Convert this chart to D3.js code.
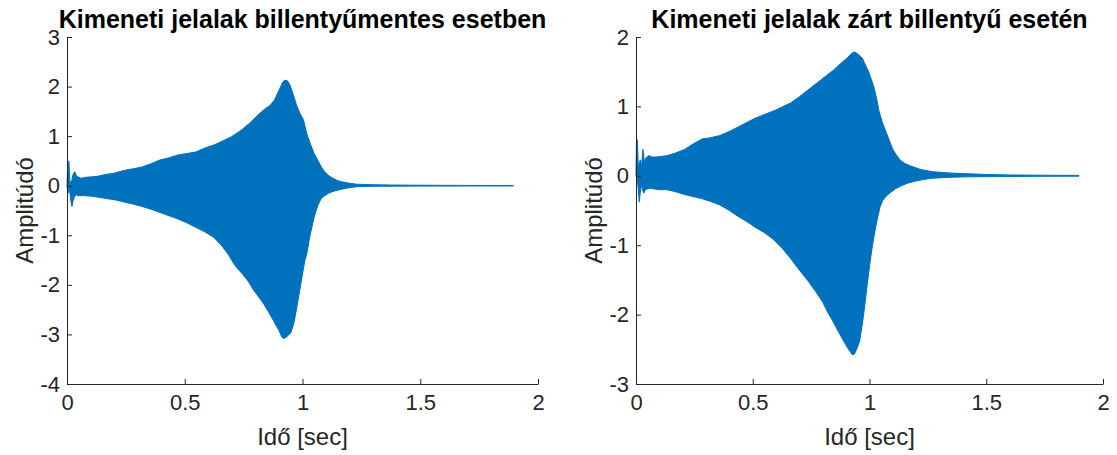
<!DOCTYPE html>
<html>
<head>
<meta charset="utf-8">
<script src="https://cdn.jsdelivr.net/npm/d3@7"></script>
<style>
  html, body { margin: 0; padding: 0; background: #fff; }
  svg { display: block; }
  text { font-family: "Liberation Sans", Arial, Helvetica, sans-serif; }
</style>
</head>
<body>
<svg id="chart" width="1117" height="455"></svg>
<script>
// ---------- Data ----------
const xTicks = [0, 0.5, 1, 1.5, 2];
const xTickLabels = ["0", "0.5", "1", "1.5", "2"];
const leftYTicks = [-4, -3, -2, -1, 0, 1, 2, 3];
const rightYTicks = [-3, -2, -1, 0, 1, 2];

const titleLeft = "Kimeneti jelalak billentyűmentes esetben";
const titleRight = "Kimeneti jelalak zárt billentyű esetén";
const xLabel = "Idő [sec]";
const yLabel = "Amplitúdó";

// Left panel: upper / lower envelope of the oscillating signal
const leftUpperT = [0.000,0.003,0.008,0.012,0.018,0.025,0.033,0.040,0.046,0.060,0.080,0.106,0.130,0.167,0.200,0.243,0.280,0.319,0.360,0.395,0.430,0.471,0.510,0.547,0.585,0.623,0.660,0.699,0.740,0.775,0.810,0.840,0.860,0.880,0.900,0.915,0.925,0.935,0.945,0.960,0.975,0.990,1.004,1.018,1.033,1.049,1.064,1.080,1.094,1.110,1.125,1.150,1.170,1.200,1.230,1.300,1.380,1.500,1.700,1.895];
const leftUpperV = [0.00,0.48,0.50,0.10,0.05,0.22,0.28,0.20,0.18,0.15,0.17,0.18,0.19,0.23,0.25,0.31,0.34,0.38,0.45,0.52,0.56,0.62,0.65,0.68,0.76,0.82,0.90,0.99,1.12,1.26,1.42,1.55,1.61,1.72,1.92,2.08,2.13,2.12,2.05,1.85,1.62,1.45,1.33,1.05,0.85,0.65,0.52,0.38,0.28,0.21,0.16,0.10,0.075,0.05,0.03,0.02,0.014,0.01,0.006,0.005];
const leftLowerT = [0.000,0.004,0.010,0.016,0.021,0.026,0.031,0.040,0.046,0.070,0.100,0.130,0.167,0.200,0.243,0.280,0.320,0.360,0.395,0.430,0.471,0.510,0.547,0.585,0.623,0.655,0.684,0.700,0.720,0.745,0.770,0.790,0.815,0.836,0.860,0.881,0.900,0.912,0.920,0.930,0.950,0.962,0.973,0.985,0.995,1.010,1.018,1.030,1.049,1.065,1.079,1.094,1.115,1.140,1.185,1.230,1.300,1.500,1.700,1.895];
const leftLowerV = [0.00,-0.15,-0.05,-0.30,-0.42,-0.30,-0.23,-0.18,-0.20,-0.20,-0.21,-0.23,-0.26,-0.28,-0.33,-0.37,-0.42,-0.48,-0.54,-0.60,-0.67,-0.75,-0.84,-0.93,-1.04,-1.20,-1.38,-1.51,-1.65,-1.78,-1.93,-2.09,-2.25,-2.39,-2.58,-2.76,-2.92,-3.05,-3.08,-3.06,-2.97,-2.80,-2.53,-2.20,-1.92,-1.51,-1.38,-1.05,-0.64,-0.40,-0.26,-0.20,-0.14,-0.10,-0.05,-0.02,-0.012,-0.008,-0.006,-0.005];

// Right panel
const rightUpperT = [0.000,0.002,0.006,0.010,0.018,0.024,0.030,0.036,0.041,0.050,0.056,0.070,0.086,0.110,0.132,0.170,0.208,0.245,0.283,0.320,0.359,0.400,0.435,0.470,0.510,0.556,0.600,0.662,0.700,0.738,0.776,0.814,0.845,0.874,0.905,0.930,0.940,0.955,0.970,0.985,0.995,1.018,1.030,1.041,1.056,1.071,1.086,1.100,1.115,1.130,1.150,1.177,1.220,1.268,1.344,1.420,1.495,1.600,1.750,1.897];
const rightUpperV = [0.00,0.50,0.52,0.10,0.23,0.15,0.38,0.20,0.25,0.28,0.29,0.27,0.27,0.28,0.29,0.33,0.38,0.46,0.53,0.55,0.58,0.64,0.70,0.76,0.83,0.89,0.95,1.05,1.14,1.24,1.34,1.44,1.52,1.61,1.70,1.78,1.78,1.74,1.69,1.58,1.51,1.29,1.12,0.93,0.76,0.63,0.50,0.38,0.30,0.23,0.18,0.14,0.09,0.06,0.04,0.03,0.02,0.012,0.008,0.006];
const rightLowerT = [0.000,0.005,0.010,0.014,0.018,0.023,0.028,0.033,0.040,0.056,0.080,0.100,0.132,0.170,0.208,0.245,0.283,0.320,0.359,0.400,0.435,0.470,0.510,0.550,0.586,0.625,0.662,0.700,0.738,0.770,0.798,0.820,0.844,0.866,0.889,0.910,0.927,0.935,0.945,0.958,0.970,0.980,0.990,1.003,1.011,1.022,1.033,1.045,1.056,1.070,1.086,1.110,1.132,1.160,1.192,1.230,1.268,1.340,1.420,1.600,1.750,1.897];
const rightLowerV = [0.00,-0.03,-0.20,-0.38,-0.25,-0.13,-0.20,-0.25,-0.20,-0.18,-0.19,-0.20,-0.20,-0.23,-0.27,-0.30,-0.33,-0.37,-0.42,-0.50,-0.58,-0.65,-0.74,-0.82,-0.91,-1.04,-1.19,-1.36,-1.52,-1.67,-1.81,-1.96,-2.10,-2.24,-2.38,-2.50,-2.58,-2.57,-2.50,-2.38,-2.12,-1.86,-1.57,-1.23,-1.04,-0.82,-0.63,-0.45,-0.36,-0.30,-0.25,-0.19,-0.15,-0.11,-0.08,-0.055,-0.035,-0.022,-0.015,-0.01,-0.007,-0.006];

// ---------- Drawing ----------
const svg = d3.select("#chart");
svg.append("rect").attr("width", 1117).attr("height", 455).attr("fill", "#fff");

const AX = "#262626";
const LINE = "#0072BD";

function panel(cfg) {
  const x = d3.scaleLinear().domain([0, 2]).range([cfg.x0, cfg.x1]);
  const y = d3.scaleLinear().domain(cfg.yDomain).range([cfg.y1, cfg.y0]);
  const g = svg.append("g");

  // signal envelope (filled)
  const upper = cfg.upT.map((t, i) => [t, cfg.upV[i]]);
  const lower = cfg.loT.map((t, i) => [t, cfg.loV[i]]).reverse();
  const pts = upper.concat(lower);
  const line = d3.line().x(d => x(d[0])).y(d => y(d[1])).curve(d3.curveLinear);
  g.append("path")
    .attr("d", line(pts) + "Z")
    .attr("fill", LINE)
    .attr("stroke", LINE)
    .attr("stroke-width", 1)
    .attr("stroke-linejoin", "round");

  // x axis
  const xa = g.append("g")
    .attr("transform", `translate(0,${cfg.y1})`)
    .call(d3.axisBottom(x).tickValues(xTicks).tickFormat((d, i) => xTickLabels[i])
      .tickSizeInner(-5).tickSizeOuter(0).tickPadding(10));
  // y axis
  const ya = g.append("g")
    .attr("transform", `translate(${cfg.x0},0)`)
    .call(d3.axisLeft(y).tickValues(cfg.yTicks).tickFormat(d3.format("d"))
      .tickSizeInner(-5).tickSizeOuter(0).tickPadding(7));

  [xa, ya].forEach(a => {
    a.select(".domain").attr("stroke", AX).attr("stroke-width", 1);
    a.selectAll(".tick line").attr("stroke", AX).attr("stroke-width", 1);
    a.selectAll(".tick text").attr("fill", AX).style("font-size", "22px")
      .style("font-family", '"Liberation Sans", Arial, sans-serif');
  });
  ya.selectAll(".tick text").text(d => d < 0 ? "-" + Math.abs(d) : String(d));

  // title
  g.append("text")
    .attr("x", (cfg.x0 + cfg.x1) / 2).attr("y", 28)
    .attr("text-anchor", "middle")
    .style("font-size", "25px").style("font-weight", "bold").attr("fill", "#000")
    .text(cfg.title);
  // x label
  g.append("text")
    .attr("x", (cfg.x0 + cfg.x1) / 2).attr("y", 445)
    .attr("text-anchor", "middle")
    .style("font-size", "24px").attr("fill", AX)
    .text(xLabel);
  // y label
  g.append("text")
    .attr("transform", `translate(${cfg.ylx},${(cfg.y0 + cfg.y1) / 2}) rotate(-90)`)
    .attr("text-anchor", "middle")
    .style("font-size", "24px").attr("fill", AX)
    .text(yLabel);
}

panel({ x0: 67, x1: 538, y0: 37, y1: 384, yDomain: [-4, 3], yTicks: leftYTicks,
        upT: leftUpperT, upV: leftUpperV, loT: leftLowerT, loV: leftLowerV,
        title: titleLeft, ylx: 33 });
panel({ x0: 636, x1: 1103, y0: 37, y1: 384, yDomain: [-3, 2], yTicks: rightYTicks,
        upT: rightUpperT, upV: rightUpperV, loT: rightLowerT, loV: rightLowerV,
        title: titleRight, ylx: 602 });
</script>
</body>
</html>
